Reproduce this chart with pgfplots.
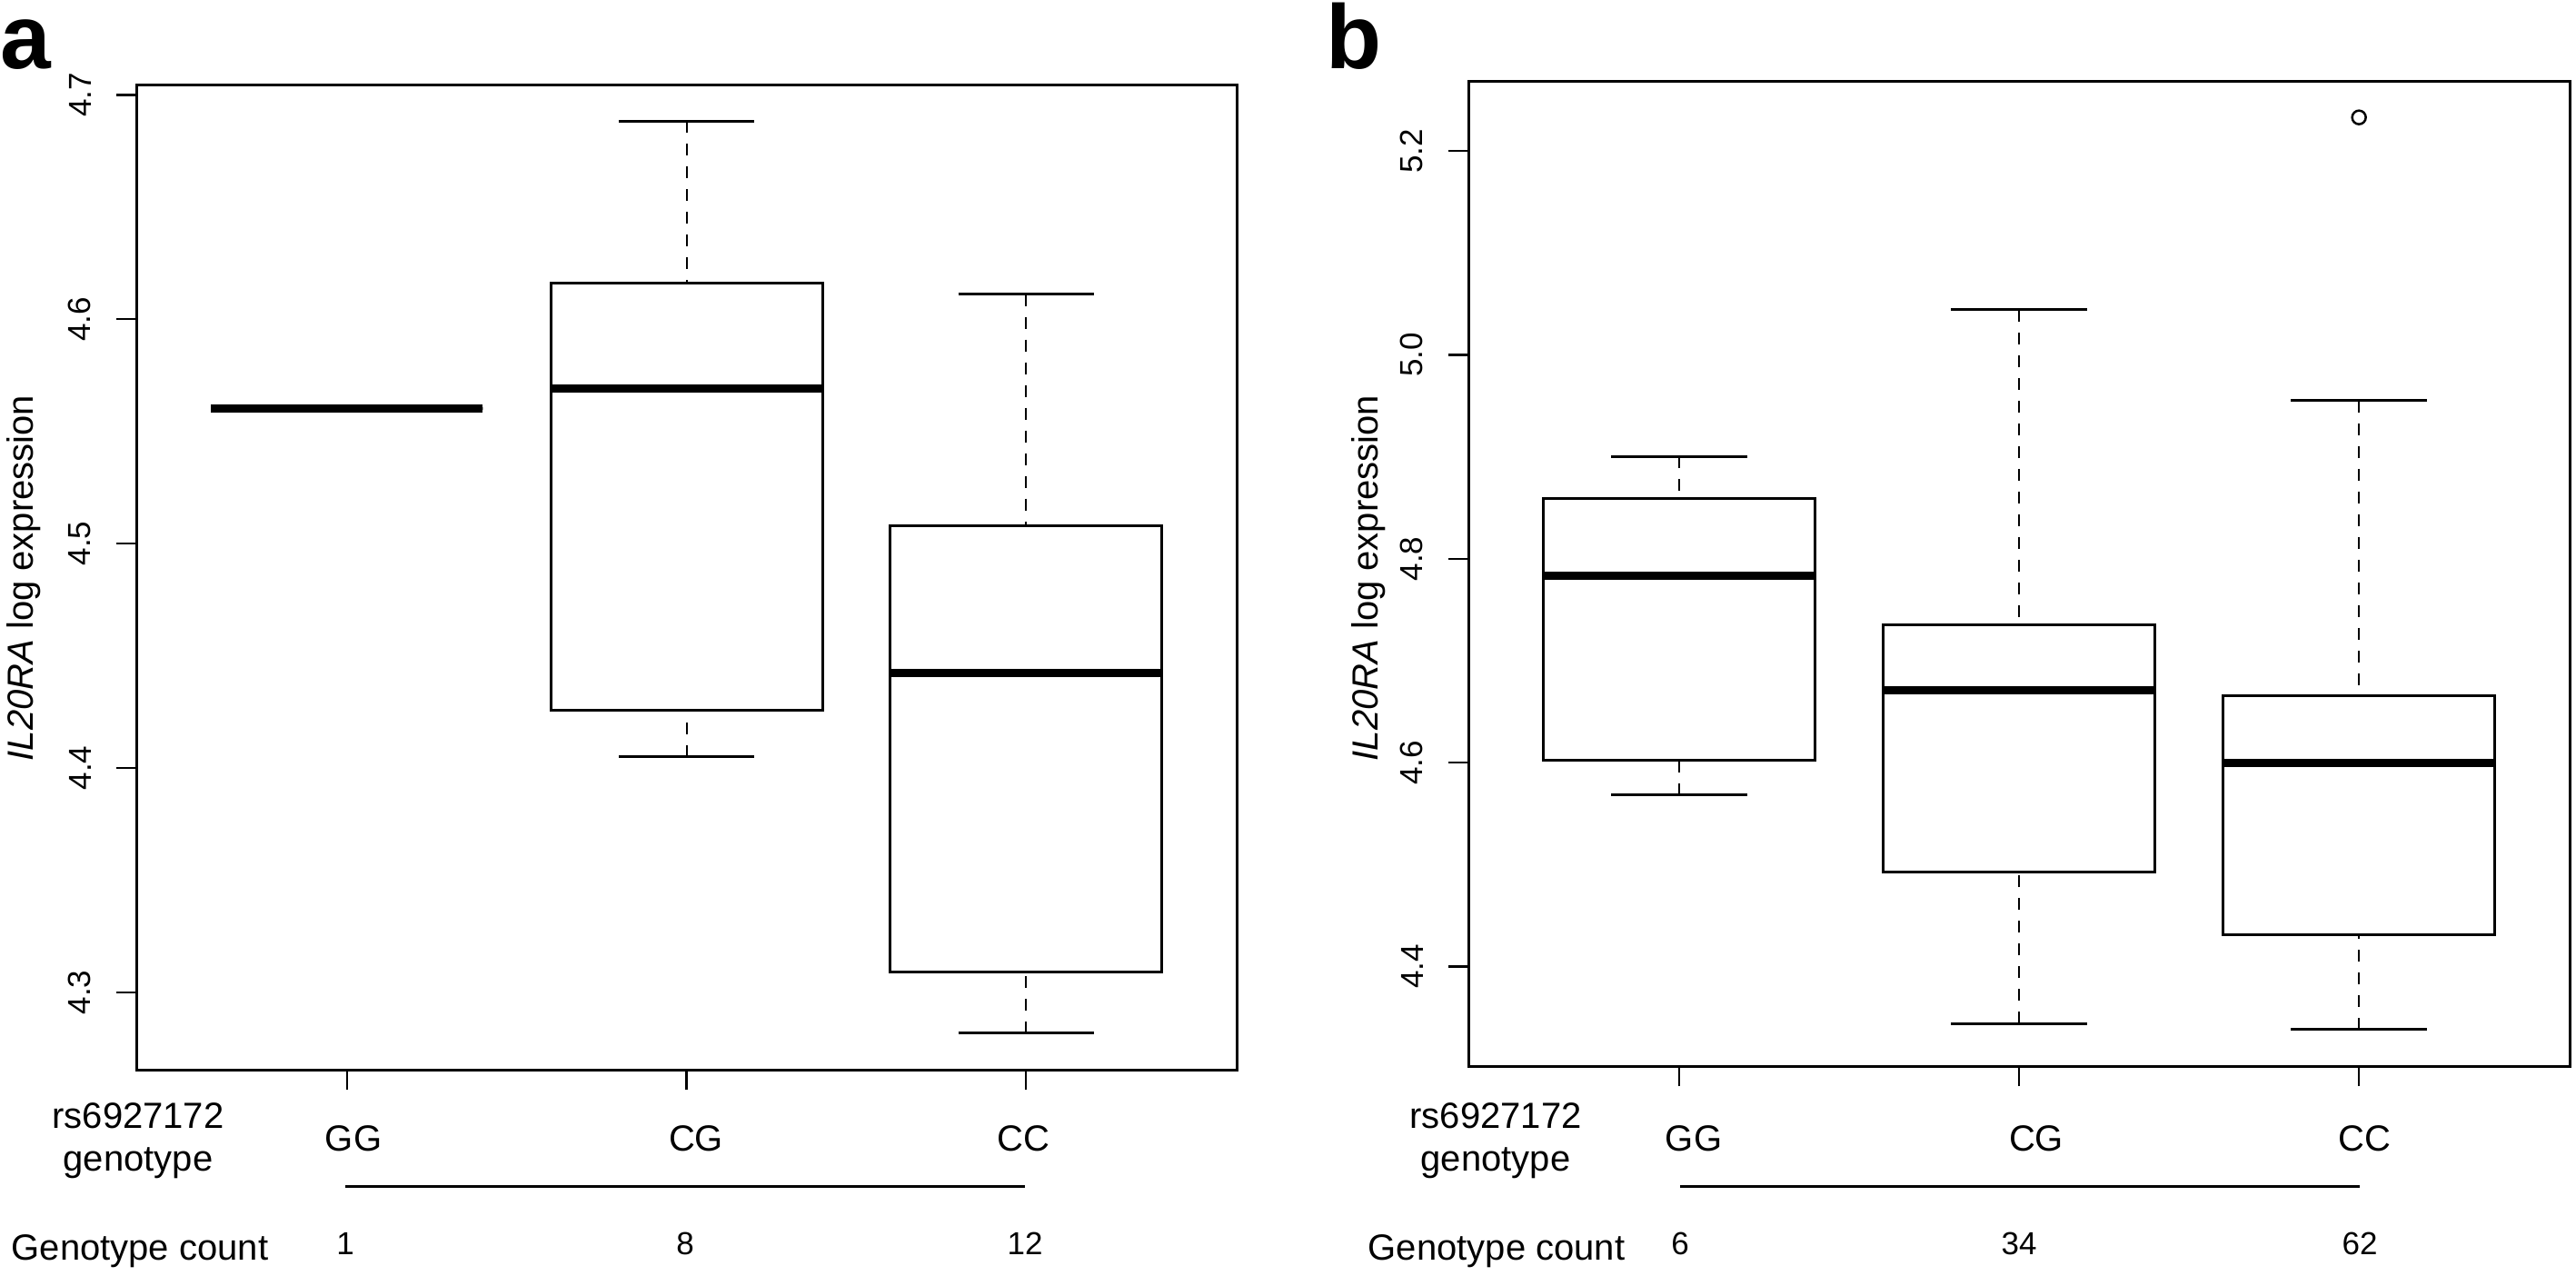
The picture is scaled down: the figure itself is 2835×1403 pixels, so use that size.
\documentclass[border=0pt]{standalone}
\usepackage{fontspec}
\setmainfont{Liberation Sans}
\usepackage{pgfplots}
\pgfplotsset{compat=1.18}
\usepgfplotslibrary{statistics}

\pgfplotsset{
  rbox/.style={
    scale only axis,
    width=242.2pt, height=216.8pt,
    anchor=north west,
    xmin=0.38, xmax=3.62,
    xtick={1,2,3}, xticklabels={,,},
    tick pos=left,
    tick align=outside,
    major tick length=4.4pt,
    every tick/.style={black, line width=0.45pt},
    axis line style={black, line width=0.6pt},
    yticklabel={\pgfmathprintnumber[fixed,fixed zerofill,precision=1,assume math mode=true]{\tick}},
    yticklabel style={rotate=90, anchor=south, inner xsep=0pt, inner ysep=5.4pt,
      font=\fontsize{7}{8}\selectfont},
    clip=false,
    boxplot/draw direction=y,
    boxplot/box extend=0.8,
    boxplot/whisker extend=0.4,
    boxplot/every box/.style={black, line width=0.6pt},
    boxplot/every median/.style={black, line width=1.8pt},
    boxplot/draw/lower whisker/.code={%
      \draw[black, line width=0.4pt, dash pattern=on 2.6pt off 2.4pt]
        (boxplot box cs:\pgfplotsboxplotvalue{lower whisker},0.5) --
        (boxplot box cs:\pgfplotsboxplotvalue{lower quartile},0.5);
      \draw[black, line width=0.6pt, solid]
        (boxplot whisker cs:\pgfplotsboxplotvalue{lower whisker},0) --
        (boxplot whisker cs:\pgfplotsboxplotvalue{lower whisker},1);
    },
    boxplot/draw/upper whisker/.code={%
      \draw[black, line width=0.4pt, dash pattern=on 2.6pt off 2.4pt]
        (boxplot box cs:\pgfplotsboxplotvalue{upper whisker},0.5) --
        (boxplot box cs:\pgfplotsboxplotvalue{upper quartile},0.5);
      \draw[black, line width=0.6pt, solid]
        (boxplot whisker cs:\pgfplotsboxplotvalue{upper whisker},0) --
        (boxplot whisker cs:\pgfplotsboxplotvalue{upper whisker},1);
    },
  },
}

\begin{document}
\begin{tikzpicture}
\begin{scope}[x=0.2pt, y=-0.2pt]
  \path (0,0) rectangle (2835,1403);
\end{scope}

% ---------- panel a ----------
\begin{axis}[rbox, at={(30pt,-18.6pt)},
  ymin=4.2655, ymax=4.7046,
  ytick={4.3,4.4,4.5,4.6,4.7}]
  \addplot[black, boxplot prepared={draw position=1,
    lower whisker=4.56, lower quartile=4.56, median=4.56,
    upper quartile=4.56, upper whisker=4.56}] coordinates {};
  \addplot[black, boxplot prepared={draw position=2,
    lower whisker=4.4049, lower quartile=4.4256, median=4.5692,
    upper quartile=4.6159, upper whisker=4.6883}] coordinates {};
  \addplot[black, boxplot prepared={draw position=3,
    lower whisker=4.2818, lower quartile=4.3089, median=4.4422,
    upper quartile=4.5080, upper whisker=4.6112}] coordinates {};
\end{axis}

% ---------- panel b ----------
\begin{axis}[rbox, at={(323.2pt,-17.8pt)}, width=242.4pt,
  ymin=4.3024, ymax=5.2689,
  ytick={4.4,4.6,4.8,5.0,5.2}]
  \addplot[black, boxplot prepared={draw position=1,
    lower whisker=4.5682, lower quartile=4.6021, median=4.7835,
    upper quartile=4.8594, upper whisker=4.9005}] coordinates {};
  \addplot[black, boxplot prepared={draw position=2,
    lower whisker=4.3442, lower quartile=4.4931, median=4.6708,
    upper quartile=4.7356, upper whisker=5.0443}] coordinates {};
  \addplot[black, boxplot prepared={draw position=3,
    lower whisker=4.3382, lower quartile=4.4312, median=4.5997,
    upper quartile=4.6656, upper whisker=4.9552}] coordinates {};
  \addplot[only marks, mark=o, mark size=1.5pt,
    mark options={black, line width=0.5pt}] coordinates {(3,5.2331)};
\end{axis}

% ---------- annotations ----------
\begin{scope}[x=0.2pt, y=-0.2pt]
  \node[anchor=base west, inner sep=0pt, font=\fontsize{20}{24}\selectfont\bfseries] at (0,75) {a};
  \node[anchor=base west, inner sep=0pt, font=\fontsize{20}{24}\selectfont\bfseries] at (1458,75) {b};

  \node[rotate=90, anchor=base, inner sep=0pt, font=\fontsize{8}{9.6}\selectfont] at (37,636) {\textit{IL20RA} log expression};
  \node[rotate=90, anchor=base, inner sep=0pt, font=\fontsize{8}{9.6}\selectfont] at (1516,636) {\textit{IL20RA} log expression};

  \begin{scope}[every node/.style={anchor=base, inner sep=0pt, font=\fontsize{8}{9.6}\selectfont}]
    \node at (152,1241) {rs6927172};
    \node at (152,1288) {genotype};
    \node at (389,1266) {GG};
    \node at (766,1266) {CG};
    \node at (1126,1266) {CC};
    \node at (154,1386) {Genotype count};

    \node at (1646,1241) {rs6927172};
    \node at (1646,1288) {genotype};
    \node at (1864,1266) {GG};
    \node at (2241,1266) {CG};
    \node at (2602,1266) {CC};
    \node at (1647,1386) {Genotype count};
  \end{scope}

  \draw[black, line width=0.6pt] (380,1305) -- (1128,1305);
  \draw[black, line width=0.6pt] (1849,1305) -- (2597,1305);

  \begin{scope}[every node/.style={anchor=base, inner sep=0pt, font=\fontsize{7}{8.4}\selectfont}]
    \node at (380,1380) {1};
    \node at (754,1380) {8};
    \node at (1128,1380) {12};
    \node at (1849,1380) {6};
    \node at (2222,1380) {34};
    \node at (2597,1380) {62};
  \end{scope}
\end{scope}
\end{tikzpicture}
\end{document}
